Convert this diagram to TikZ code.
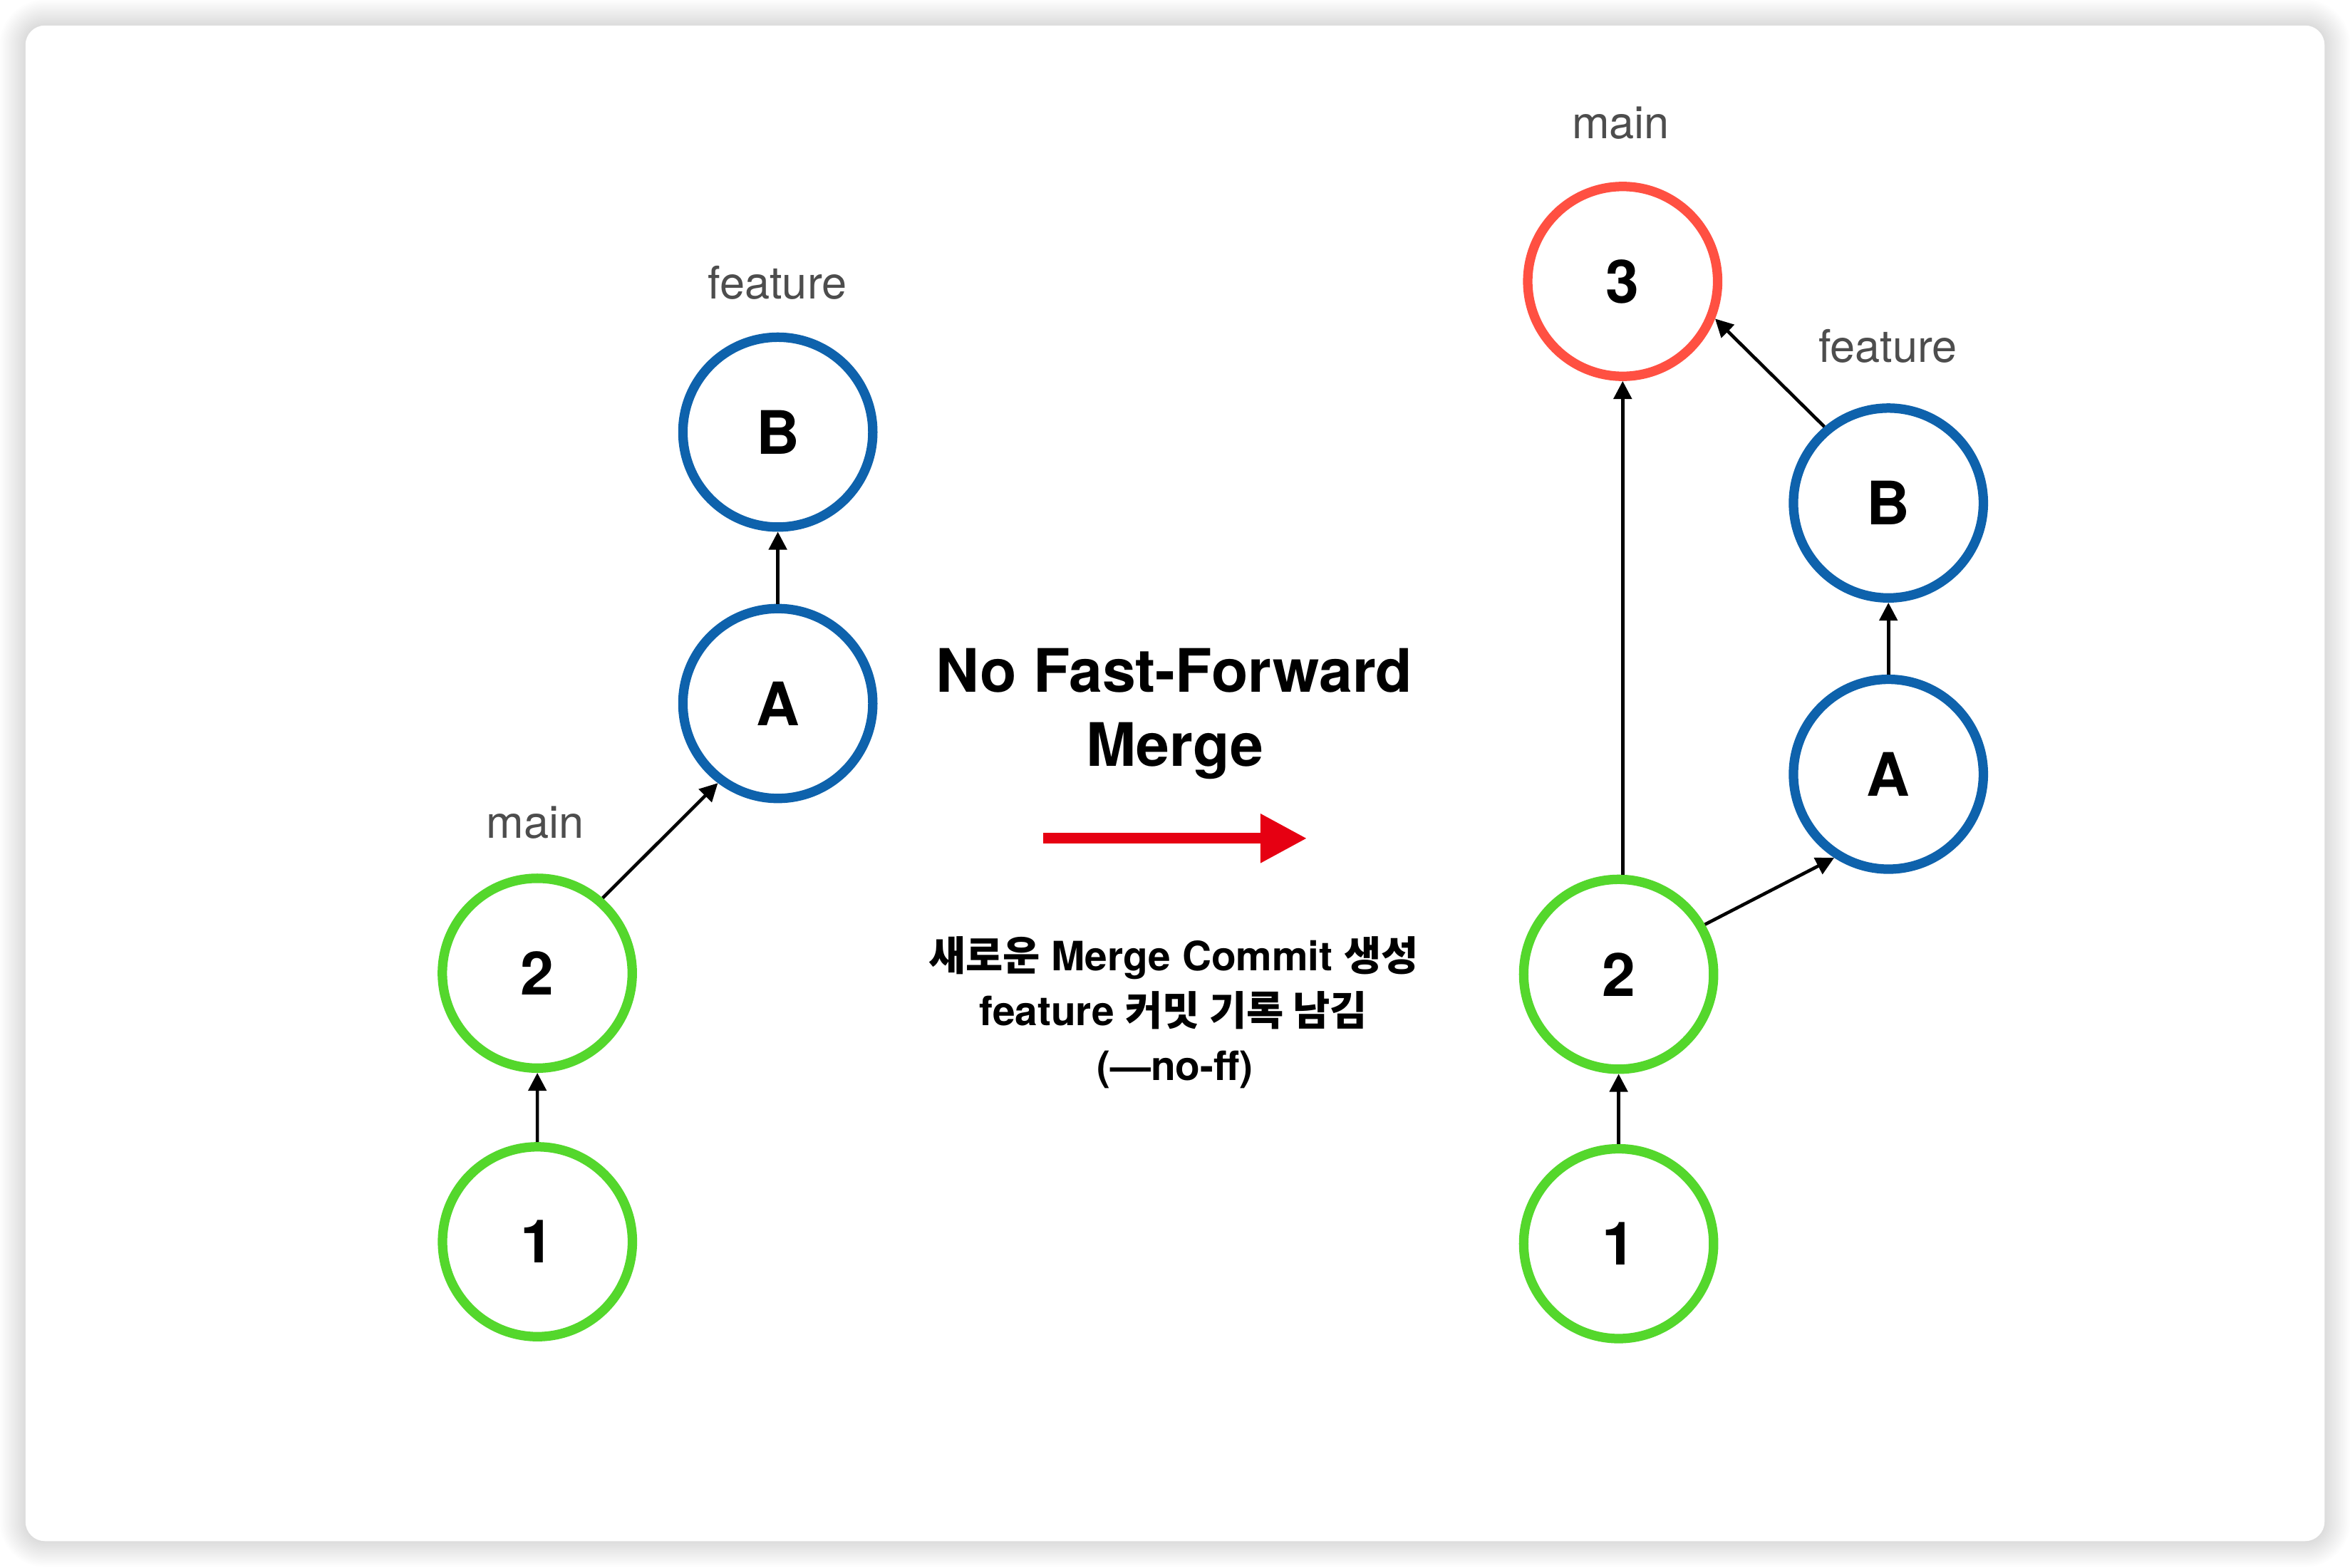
\documentclass[tikz,border=0pt]{standalone}
\usepackage{fontspec}
\setmainfont{TeX Gyre Heros}
\newfontfamily\kr{Noto Sans CJK KR}
\usetikzlibrary{arrows.meta}
\definecolor{cgreen}{RGB}{84,215,44}
\definecolor{cblue}{RGB}{14,98,172}
\definecolor{cred}{RGB}{255,80,66}
\definecolor{clabel}{RGB}{77,77,77}
\definecolor{carrow}{RGB}{230,0,18}
\begin{document}
\begin{tikzpicture}[x=1pt,y=-1pt,
  commit/.style={circle, draw, line width=6.3pt, minimum size=126.7pt, inner sep=0pt, fill=white, font=\fontsize{40}{48}\selectfont\bfseries},
  gcommit/.style={commit, draw=cgreen},
  bcommit/.style={commit, draw=cblue},
  rcommit/.style={commit, draw=cred},
  branch/.style={anchor=base, text=clabel, inner sep=0pt, font=\fontsize{30}{36}\selectfont},
  title/.style={anchor=base, inner sep=0pt, font=\fontsize{40}{48}\selectfont\bfseries},
  desc/.style={anchor=base, inner sep=0pt, font=\fontsize{27}{36}\selectfont\bfseries},
  link/.style={line width=2.2pt, -{Triangle[length=12pt,width=12pt]}},
  bigarrow/.style={line width=7pt, draw=carrow, -{Triangle[length=31pt,width=31pt]}}
]
% canvas and card with soft shadow
\fill[white] (0,0) rectangle (1568,1046);
\foreach \k in {17,...,1}{
  \pgfmathsetmacro\c{14*(18-\k)/18}
  \pgfmathsetmacro\r{13+\k}
  \fill[black!\c, rounded corners=\r pt] (17-\k,17-\k) rectangle (1551+\k,1028.5+\k);
}
\fill[white, rounded corners=13pt] (17,17) rectangle (1551,1028.5);
\useasboundingbox (0,0) rectangle (1568,1046);

% left graph
\node[gcommit] (l1) at (358.6,828.7) {1};
\node[gcommit] (l2) at (358.5,649.5) {2};
\node[bcommit] (lA) at (519,469.5) {A};
\node[bcommit] (lB) at (519,288.4) {B};
\node[branch] (lfeat) at (518.7,199.4) {feature};
\node[branch] (lmain) at (357,559.4) {main};
\draw[link] (l1) -- (l2);
\draw[link] (l2.49.4) -- (lA.233.4);
\draw[link] (lA) -- (lB);

% right graph
\node[gcommit] (r1) at (1080,830) {1};
\node[gcommit] (r2) at (1080,650.2) {2};
\node[bcommit] (rA) at (1260,516.7) {A};
\node[bcommit] (rB) at (1260,335.7) {B};
\node[rcommit] (r3) at (1082.7,187.8) {3};
\node[branch] (rmain) at (1081.4,92.7) {main};
\node[branch] (rfeat) at (1259.7,241.6) {feature};
\draw[link] (r1) -- (r2);
\draw[link] (r2.north -| r3.south) -- (r3.south);
\draw[link] (r2.30.2) -- (rA.237.6);
\draw[link] (rA) -- (rB);
\draw[link] (rB.130.7) -- (r3.338);

% middle
\node[title] (t1) at (783.5,462) {No Fast-Forward};
\node[title] (t2) at (784,511.5) {Merge};
\coordinate (ras) at (696,559.5);
\coordinate (rae) at (872,559.5);
\draw[bigarrow] (ras) -- (rae);
\node[desc] (d1) at (783,648) {{\kr 새로운} Merge Commit {\kr 생성}};
\node[desc] (d2) at (783,684.5) {feature {\kr 커밋 기록 남김}};
\node[desc] (d3) at (784,721) {(—no-ff)};
\end{tikzpicture}
\end{document}
